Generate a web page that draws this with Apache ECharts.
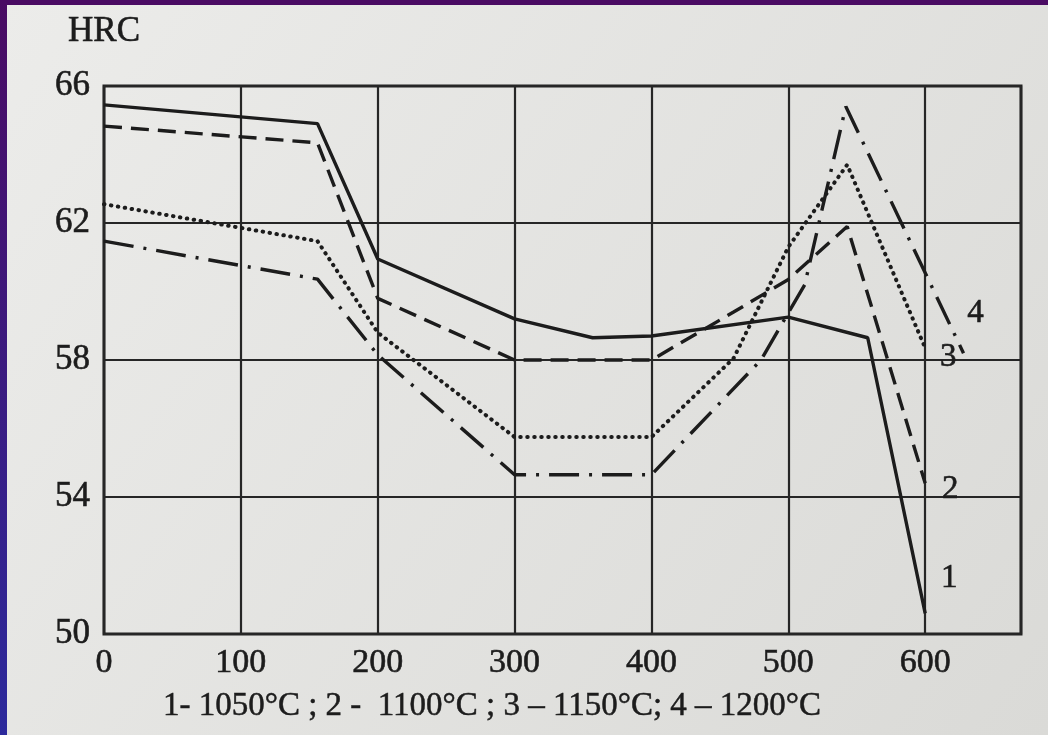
<!DOCTYPE html>
<html>
<head>
<meta charset="utf-8">
<script src="https://cdn.jsdelivr.net/npm/echarts@6/dist/echarts.min.js"></script>
<style>
html,body{margin:0;padding:0;background:#e6e6e3;}
#chart{width:1048px;height:735px;}
</style>
</head>
<body>
<div id="chart"></div>
<script>
// Tempering temperature (x) and hardness HRC (y) for 4 quenching temperatures
const temp1 = [0, 156, 200, 300, 357, 400, 500, 558, 600];
const hrc1  = [65.45, 64.9, 60.95, 59.2, 58.65, 58.7, 59.25, 58.65, 50.6];
const temp2 = [0, 156, 200, 300, 400, 460, 500, 543, 600];
const hrc2  = [64.83, 64.34, 59.8, 58.0, 58.0, 59.4, 60.35, 61.9, 54.4];
const temp3 = [0, 156, 200, 300, 400, 460, 500, 543, 600];
const hrc3  = [62.55, 61.47, 58.8, 55.75, 55.75, 58.05, 61.3, 63.7, 58.35];
const temp4 = [0, 156, 200, 300, 400, 480, 512, 542, 628];
const hrc4  = [61.47, 60.36, 58.15, 54.65, 54.65, 58.0, 60.2, 65.4, 58.2];
const curveNames = ['1', '2', '3', '4'];
const caption = '1- 1050°C ; 2 -  1100°C ; 3 – 1150°C; 4 – 1200°C';
const yName = 'HRC';
const xTicks = [0, 100, 200, 300, 400, 500, 600];

const FONT = '"Liberation Serif", "DejaVu Serif", serif';
const INK = '#1c1c1c';
const THICK = { textBorderColor: '#1c1c1c', textBorderWidth: 0.6 };

function pairs(xs, ys) { return xs.map((x, i) => [x, ys[i]]); }

const styles = [
  { type: 'solid', width: 3.4, cap: 'butt' },
  { type: [18, 9], width: 3.4, cap: 'butt' },
  { type: [0.5, 6.5], width: 4, cap: 'round' },
  { type: [30, 10, 3, 10], width: 3.4, cap: 'butt' }
];
const labelOffsets = [[24, -35], [25, 6], [23, 9], [12, -40]];
const sets = [[temp1, hrc1], [temp2, hrc2], [temp3, hrc3], [temp4, hrc4]];

const series = sets.map((s, i) => {
  const d = pairs(s[0], s[1]);
  const last = d[d.length - 1];
  return {
    type: 'line',
    name: curveNames[i],
    data: d,
    showSymbol: false,
    symbol: 'none',
    lineStyle: Object.assign({ color: INK }, styles[i]),
    z: 3,
    markPoint: {
      symbol: 'circle',
      symbolSize: 0,
      silent: true,
      label: Object.assign({
        show: true,
        position: 'inside',
        formatter: curveNames[i],
        offset: labelOffsets[i],
        fontFamily: FONT,
        fontSize: 33,
        color: INK
      }, THICK),
      data: [{ coord: last }]
    }
  };
});

const chart = echarts.init(document.getElementById('chart'), null, { renderer: 'canvas' });
chart.setOption({
  animation: false,
  backgroundColor: {
    type: 'linear', x: 0, y: 0, x2: 1, y2: 1,
    colorStops: [{ offset: 0, color: '#ececea' }, { offset: 1, color: '#dadad7' }]
  },
  grid: {
    left: 104, right: 27, top: 86, bottom: 101,
    show: true, borderColor: '#222', borderWidth: 3,
    backgroundColor: 'transparent'
  },
  xAxis: {
    type: 'value',
    min: 0, max: 670, interval: 100,
    axisLine: { show: false },
    axisTick: { show: false },
    splitLine: { show: true, lineStyle: { color: '#262626', width: 2.2 } },
    axisLabel: Object.assign({
      margin: 12,
      fontFamily: FONT, fontSize: 34, color: INK,
      formatter: v => (xTicks.indexOf(v) >= 0 ? String(v) : '')
    }, THICK)
  },
  yAxis: {
    type: 'value',
    min: 50, max: 66, interval: 4,
    name: yName,
    nameLocation: 'end',
    nameGap: 37,
    nameTextStyle: Object.assign({ fontFamily: FONT, fontSize: 35, color: INK, align: 'center' }, THICK),
    axisLine: { show: false },
    axisTick: { show: false },
    splitLine: { show: true, lineStyle: { color: '#262626', width: 2.2 } },
    axisLabel: Object.assign({ margin: 14, fontFamily: FONT, fontSize: 35, color: INK }, THICK)
  },
  graphic: [
    { type: 'rect', left: 0, top: 0, shape: { width: 1048, height: 5 }, style: { fill: '#4a0b63' }, z: 100 },
    { type: 'rect', left: 0, top: 0, shape: { width: 7, height: 735 },
      style: { fill: { type: 'linear', x: 0, y: 0, x2: 0, y2: 1,
        colorStops: [{ offset: 0, color: '#4a0b63' }, { offset: 1, color: '#2c2a9c' }] } }, z: 100 },
    { type: 'text', x: 492, y: 706,
      style: Object.assign({ text: caption, fontFamily: FONT, fontSize: 33, fill: INK, textAlign: 'center', textVerticalAlign: 'middle', stroke: INK, lineWidth: 0.5 }) }
  ],
  series: series
});
</script>
</body>
</html>
